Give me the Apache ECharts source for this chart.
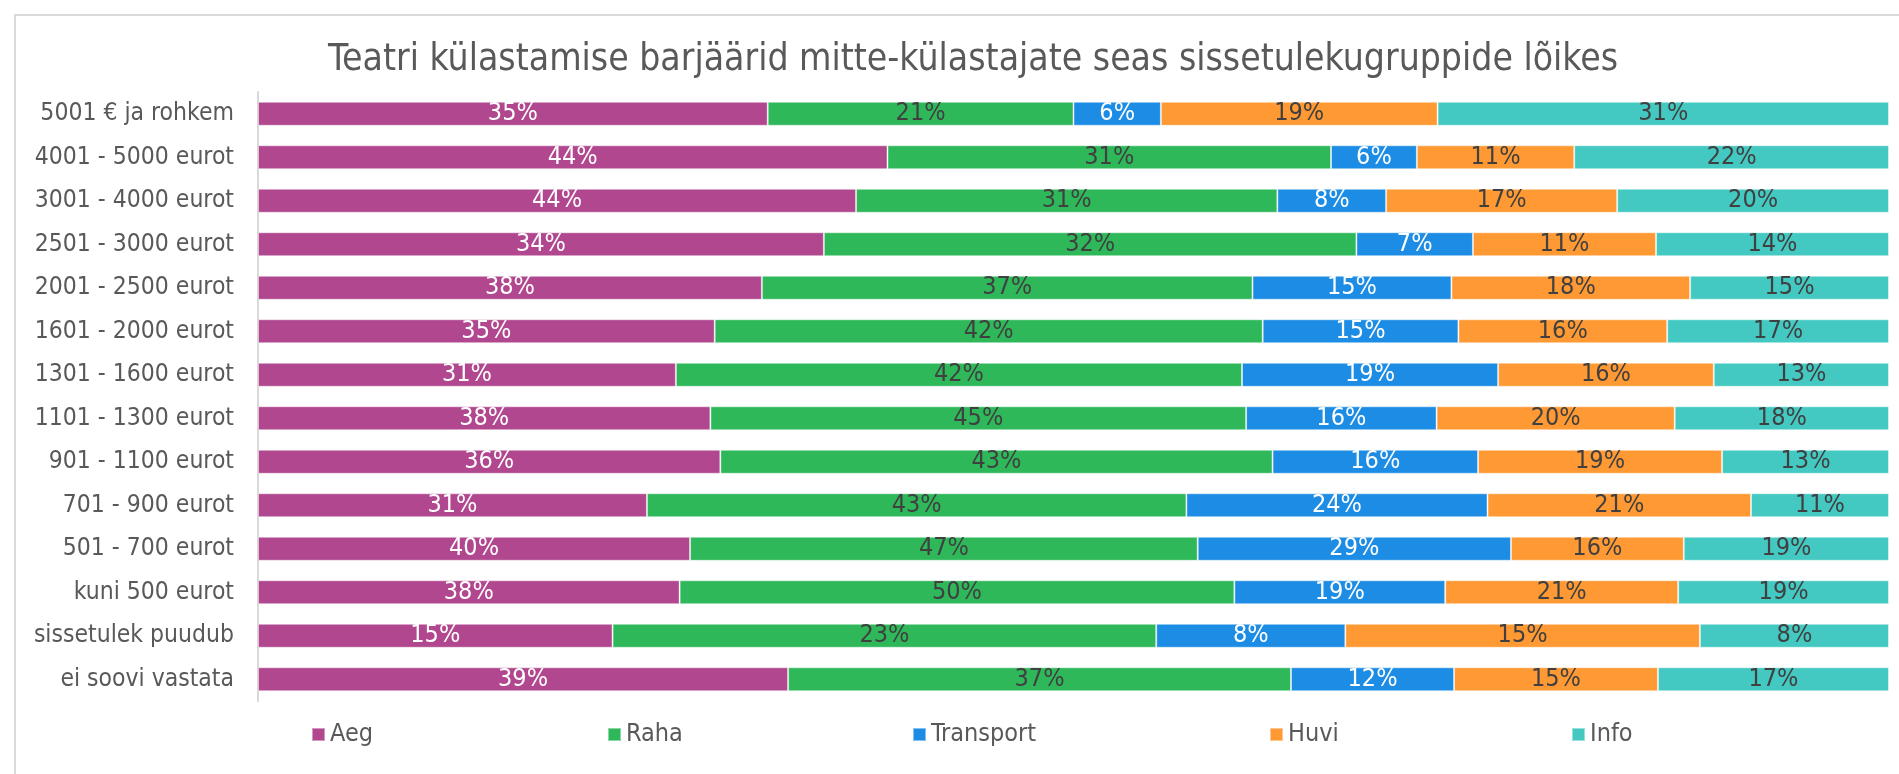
<!DOCTYPE html>
<html>
<head>
<meta charset="utf-8">
<script src="https://cdn.jsdelivr.net/npm/echarts@6/dist/echarts.min.js"></script>
<style>
  html, body { margin: 0; padding: 0; background: #fff; }
  #chart { width: 1899px; height: 774px; }
</style>
</head>
<body>
<div id="chart"></div>
<script>
const categories = [
  '5001 € ja rohkem', '4001 - 5000 eurot', '3001 - 4000 eurot', '2501 - 3000 eurot',
  '2001 - 2500 eurot', '1601 - 2000 eurot', '1301 - 1600 eurot', '1101 - 1300 eurot',
  '901 - 1100 eurot', '701 - 900 eurot', '501 - 700 eurot', 'kuni 500 eurot',
  'sissetulek puudub', 'ei soovi vastata'
]
const aeg       = [35, 44, 44, 34, 38, 35, 31, 38, 36, 31, 40, 38, 15, 39]
const raha      = [21, 31, 31, 32, 37, 42, 42, 45, 43, 43, 47, 50, 23, 37]
const transport = [6, 6, 8, 7, 15, 15, 19, 16, 16, 24, 29, 19, 8, 12]
const huvi      = [19, 11, 17, 11, 18, 16, 16, 20, 19, 21, 16, 21, 15, 15]
const info      = [31, 22, 20, 14, 15, 17, 13, 18, 13, 11, 19, 19, 8, 17]

const seriesDefs = [
  { name: 'Aeg', values: aeg, color: '#b0478f', text: '#ffffff' },
  { name: 'Raha', values: raha, color: '#2eb85a', text: '#404040' },
  { name: 'Transport', values: transport, color: '#1c8ce4', text: '#ffffff' },
  { name: 'Huvi', values: huvi, color: '#ff9933', text: '#404040' },
  { name: 'Info', values: info, color: '#43c9c1', text: '#404040' }
]

// 100% stacked: every row is scaled to its own total
const totals = categories.map((_, i) => seriesDefs.reduce((s, d) => s + d.values[i], 0))

const FONT = "'Liberation Sans Narrow', 'DejaVu Sans Condensed', sans-serif"
const legendLeft = [306, 602, 907, 1264, 1566]

const chart = echarts.init(document.getElementById('chart'))

const option = {
  animation: false,
  textStyle: { fontFamily: FONT },
  graphic: [{
    type: 'rect',
    shape: { x: 15, y: 15, width: 1900, height: 800 },
    style: { fill: 'none', stroke: '#d9d9d9', lineWidth: 2 }
  }],
  title: {
    text: 'Teatri külastamise barjäärid mitte-külastajate seas sissetulekugruppide lõikes',
    left: 323,
    top: 37,
    textStyle: { fontFamily: FONT, fontSize: 37, fontWeight: 'normal', color: '#595959' }
  },
  legend: seriesDefs.map((d, i) => ({
    data: [d.name],
    left: legendLeft[i],
    top: 717,
    itemWidth: 13,
    itemHeight: 13,
    icon: 'rect',
    textStyle: { fontFamily: FONT, fontSize: 25, color: '#595959' }
  })),
  grid: { left: 258, right: 10, top: 92, bottom: 73 },
  xAxis: {
    type: 'value',
    min: 0,
    max: 1,
    show: false
  },
  yAxis: {
    type: 'category',
    inverse: true,
    data: categories,
    axisLine: { show: true, lineStyle: { color: '#d9d9d9', width: 2 } },
    axisTick: { show: false },
    axisLabel: { fontFamily: FONT, fontSize: 24.5, color: '#595959', margin: 24 }
  },
  series: seriesDefs.map((d) => ({
    name: d.name,
    type: 'bar',
    stack: 'total',
    barWidth: 24,
    itemStyle: { color: d.color, borderColor: 'rgba(255,255,255,0.45)', borderWidth: 1 },
    label: {
      show: true,
      position: 'inside',
      fontFamily: FONT,
      fontSize: 25,
      color: d.text,
      formatter: (p) => d.values[p.dataIndex] + '%'
    },
    data: d.values.map((v, i) => v / totals[i])
  }))
}

chart.setOption(option)
</script>
</body>
</html>
